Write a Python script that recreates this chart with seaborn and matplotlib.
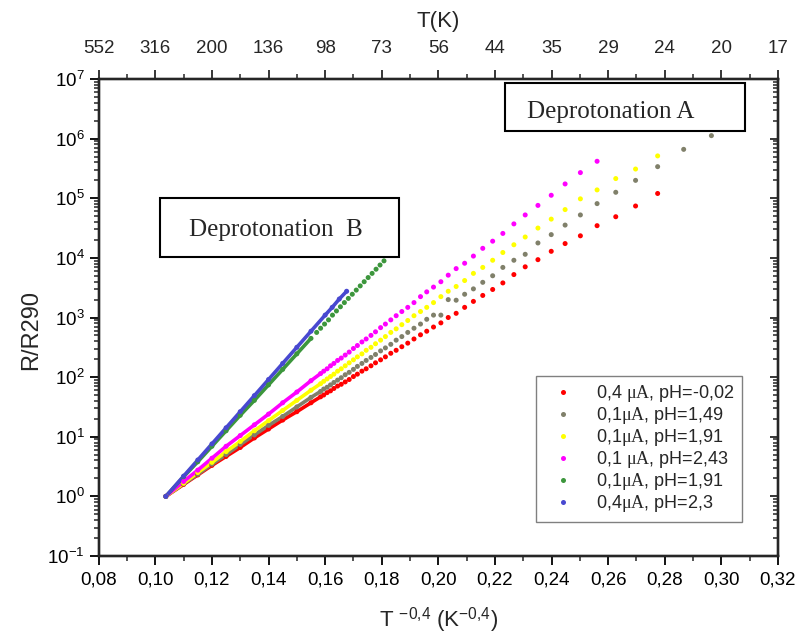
import numpy as np
import pandas as pd
import matplotlib
matplotlib.use("Agg")
import matplotlib.pyplot as plt
from matplotlib.patches import Rectangle
from matplotlib.ticker import MultipleLocator, NullFormatter
import seaborn as sns

# T^-0.4 grid shared by the four "A" samples
x_a = [0.1037, 0.110, 0.115, 0.120, 0.125, 0.130, 0.135, 0.140, 0.145, 0.150, 0.155,
       0.1584, 0.1595, 0.1607, 0.1619, 0.1631, 0.1644, 0.1657, 0.1671, 0.1685, 0.1700, 0.1714,
       0.1730, 0.1745, 0.1762, 0.1778, 0.1796, 0.1813, 0.1832, 0.1851, 0.1871, 0.1892, 0.1914,
       0.1937, 0.1959, 0.1983, 0.2009, 0.2035, 0.2063, 0.2093, 0.2124, 0.2157, 0.2192, 0.2228,
       0.2267, 0.2307, 0.2352, 0.2399, 0.2448, 0.2502, 0.2561, 0.2627, 0.2697, 0.2775, 0.2867, 0.2965]

# log10(R/R290)
lg_red = [0, 0.20, 0.36, 0.52, 0.67, 0.82, 0.98, 1.13, 1.28, 1.42, 1.57,
          1.67, 1.70, 1.74, 1.77, 1.81, 1.85, 1.88, 1.92, 1.96, 2.01, 2.05,
          2.10, 2.14, 2.19, 2.24, 2.29, 2.34, 2.40, 2.45, 2.51, 2.57, 2.64,
          2.71, 2.77, 2.84, 2.91, 3.00, 3.07, 3.17, 3.27, 3.37, 3.47, 3.58,
          3.72, 3.85, 3.97, 4.11, 4.24, 4.37, 4.54, 4.69, 4.87, 5.08]
lg_gray = [0, 0.21, 0.37, 0.54, 0.70, 0.87, 1.03, 1.19, 1.34, 1.50, 1.66,
           1.76, 1.80, 1.83, 1.87, 1.91, 1.95, 1.99, 2.04, 2.08, 2.13, 2.18,
           2.23, 2.28, 2.33, 2.38, 2.44, 2.49, 2.55, 2.62, 2.68, 2.75, 2.82,
           2.89, 2.97, 3.04, 3.04, 3.30, 3.29, 3.39, 3.48, 3.59, 3.70, 3.84,
           3.96, 4.06, 4.25, 4.39, 4.55, 4.72, 4.91, 5.10, 5.30, 5.53, 5.82, 6.05]
lg_yellow = [0, 0.22, 0.40, 0.57, 0.75, 0.92, 1.10, 1.27, 1.44, 1.61, 1.78,
             1.89, 1.93, 1.97, 2.01, 2.05, 2.10, 2.14, 2.19, 2.24, 2.29, 2.34,
             2.39, 2.45, 2.50, 2.56, 2.62, 2.68, 2.75, 2.81, 2.88, 2.95, 3.03,
             3.10, 3.17, 3.25, 3.35, 3.44, 3.52, 3.62, 3.74, 3.84, 3.96, 4.09,
             4.22, 4.35, 4.50, 4.65, 4.81, 4.99, 5.14, 5.33, 5.49, 5.71]
lg_magenta = [0, 0.25, 0.44, 0.64, 0.84, 1.02, 1.20, 1.38, 1.57, 1.75, 1.94,
              2.06, 2.10, 2.14, 2.19, 2.23, 2.28, 2.32, 2.37, 2.42, 2.48, 2.53,
              2.59, 2.64, 2.70, 2.76, 2.83, 2.89, 2.96, 3.03, 3.10, 3.17, 3.25,
              3.35, 3.43, 3.51, 3.60, 3.71, 3.82, 3.91, 4.03, 4.16, 4.28, 4.41,
              4.57, 4.72, 4.88, 5.05, 5.24, 5.43, 5.62]

# "B" samples
x_green = [0.1037, 0.110, 0.115, 0.120, 0.125, 0.130, 0.135, 0.140, 0.145, 0.150, 0.155,
           0.1570, 0.1584, 0.1598, 0.1612, 0.1626, 0.1640, 0.1654, 0.1668, 0.1682, 0.1696,
           0.1710, 0.1724, 0.1738, 0.1752, 0.1766, 0.1780, 0.1794, 0.1808]
lg_green = [0, 0.33, 0.58, 0.84, 1.10, 1.36, 1.61, 1.87, 2.13, 2.39, 2.65,
            2.75, 2.82, 2.89, 2.96, 3.04, 3.11, 3.18, 3.25, 3.32, 3.39,
            3.46, 3.53, 3.60, 3.67, 3.74, 3.81, 3.88, 3.95]
x_blue = [0.1037, 0.110, 0.115, 0.120, 0.125, 0.130, 0.135, 0.140, 0.145, 0.150, 0.155,
          0.160, 0.1625, 0.1650, 0.1676]
lg_blue = [0, 0.34, 0.61, 0.88, 1.15, 1.42, 1.69, 1.96, 2.23, 2.50, 2.77,
           3.04, 3.17, 3.31, 3.44]

labels = ["0,4 $\\mathrm{μA}$, pH=-0,02", "0,1$\\mathrm{μA}$, pH=1,49",
          "0,1$\\mathrm{μA}$, pH=1,91", "0,1 $\\mathrm{μA}$, pH=2,43",
          "0,1$\\mathrm{μA}$, pH=1,91", "0,4$\\mathrm{μA}$, pH=2,3"]
bottom_ticks = [0.08, 0.10, 0.12, 0.14, 0.16, 0.18, 0.20, 0.22, 0.24, 0.26, 0.28, 0.30, 0.32]
bottom_labels = ["0,08", "0,10", "0,12", "0,14", "0,16", "0,18", "0,20",
                 "0,22", "0,24", "0,26", "0,28", "0,30", "0,32"]
top_labels = ["552", "316", "200", "136", "98", "73", "56", "44", "35", "29", "24", "20", "17"]

series = [("s1", x_a, lg_red), ("s2", x_a, lg_gray), ("s3", x_a, lg_yellow),
          ("s4", x_a, lg_magenta), ("s5", x_green, lg_green), ("s6", x_blue, lg_blue)]
colors = {"s1": "#ff0000", "s2": "#80806a", "s3": "#ffff00",
          "s4": "#ff00ff", "s5": "#3c963c", "s6": "#4848d0"}
line_until = {"s1": 0.159, "s2": 0.159, "s3": 0.159, "s4": 0.159, "s5": 0.156, "s6": 0.17}

frames = []
for key, xs, lg in series:
    n = len(lg)
    frames.append(pd.DataFrame({"x": xs[:n], "R": 10.0 ** np.array(lg), "key": key}))
df = pd.concat(frames, ignore_index=True)

sns.set_style("ticks")
plt.rcParams["font.family"] = ["Liberation Sans", "DejaVu Sans"]
plt.rcParams["mathtext.fontset"] = "custom"
plt.rcParams["mathtext.rm"] = "Liberation Serif"
plt.rcParams["mathtext.sf"] = "Liberation Sans"
plt.rcParams["mathtext.it"] = "Liberation Serif:italic"
plt.rcParams["axes.unicode_minus"] = False

fig = plt.figure(figsize=(7.95, 6.35), dpi=100)
ax = fig.add_axes([0.1242, 0.1244, 0.8543, 0.7512])

for key, _, _ in series:
    sub = df[(df["key"] == key) & (df["x"] <= line_until[key])]
    sns.lineplot(data=sub, x="x", y="R", color=colors[key], linewidth=2.6,
                 estimator=None, sort=False, legend=False, ax=ax, zorder=2)
sns.scatterplot(data=df, x="x", y="R", hue="key", palette=colors, s=13,
                linewidth=0, ax=ax, zorder=3)

ax.set_yscale("log")
ax.set_xlim(0.08, 0.32)
ax.set_ylim(1e-1, 1e7)
ax.set_xticks(bottom_ticks)
ax.set_xticklabels(bottom_labels)
ax.xaxis.set_minor_locator(MultipleLocator(0.01))
ax.yaxis.set_minor_formatter(NullFormatter())
ax.tick_params(axis="both", which="major", direction="out", length=6.5, width=1.3,
               labelsize=13.5, colors="black")
ax.tick_params(axis="x", which="major", pad=5)
ax.tick_params(axis="both", which="minor", direction="out", length=3.5, width=1.1)
for sp in ax.spines.values():
    sp.set_linewidth(1.6)
    sp.set_color("black")

ax.set_xlabel("T $^{\\mathsf{-0{,}4}}$ (K$^{\\mathsf{-0{,}4}}$)", fontsize=16)
ax.set_ylabel("R/R290", fontsize=17)
ax.xaxis.set_label_coords(0.5, -0.103)
ax.yaxis.set_label_coords(-0.083, 0.474)

# right mirror axis with inward ticks
axr = ax.twinx()
axr.set_yscale("log")
axr.set_ylim(1e-1, 1e7)
axr.yaxis.set_minor_formatter(NullFormatter())
axr.tick_params(axis="y", which="major", direction="in", length=6, width=1.3, labelright=False)
axr.tick_params(axis="y", which="minor", direction="in", length=3.5, width=1.1)
axr.set_ylabel("")

# top axis with temperature labels
axt = ax.twiny()
axt.set_xlim(0.08, 0.32)
axt.set_xticks(bottom_ticks)
axt.set_xticklabels(top_labels)
axt.xaxis.set_minor_locator(MultipleLocator(0.01))
axt.tick_params(axis="x", which="major", direction="out", length=6.5, width=1.3,
                labelsize=13.5, pad=9)
axt.tick_params(axis="x", which="minor", direction="out", length=3.5, width=1.1)
axt.set_xlabel("T(K)", fontsize=16, labelpad=10)
for a in (axr, axt):
    for sp in a.spines.values():
        sp.set_linewidth(1.6)

handles, _ = ax.get_legend_handles_labels()
leg = ax.legend(handles, labels, loc="lower right", bbox_to_anchor=(0.9467, 0.0719),
                bbox_transform=ax.transAxes, borderaxespad=0, fontsize=13,
                frameon=True, fancybox=False, framealpha=1, edgecolor="#808080",
                labelspacing=0.06, handletextpad=0.75, borderpad=0.4, markerscale=1.0,
                handlelength=2.2)
leg.get_frame().set_linewidth(1.0)
leg.set_zorder(5)

# annotation boxes
ax.add_patch(Rectangle((0.5982, 0.8916), 0.3534, 0.1006, transform=ax.transAxes,
                       facecolor="white", edgecolor="black", linewidth=1.5, zorder=6))
ax.text(0.6306, 0.9182, "Deprotonation A", transform=ax.transAxes, ha="left",
        va="baseline", fontsize=18, family="Liberation Serif", zorder=7)
ax.add_patch(Rectangle((0.0903, 0.6262), 0.3514, 0.1243, transform=ax.transAxes,
                       facecolor="white", edgecolor="black", linewidth=1.5, zorder=6))
ax.text(0.3881, 0.6709, "Deprotonation  B", transform=ax.transAxes, ha="right",
        va="baseline", fontsize=18, family="Liberation Serif", zorder=7)

fig.savefig("out.png", dpi=100)
